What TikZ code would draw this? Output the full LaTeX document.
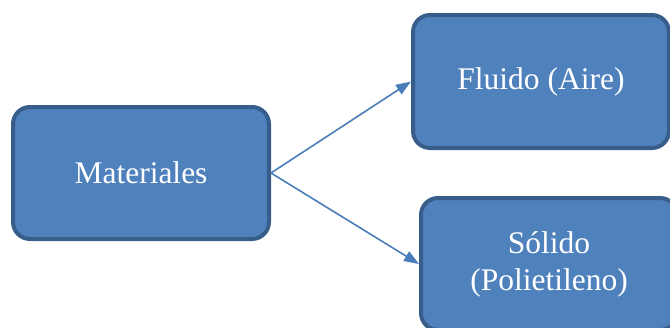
\documentclass[tikz,border=0pt]{standalone}
\usepackage{fontspec}
\setmainfont{Liberation Serif}
\usetikzlibrary{arrows.meta}
\definecolor{boxfill}{HTML}{4F81BD}
\definecolor{boxline}{HTML}{385D8A}
\definecolor{arrowc}{HTML}{4A7EBB}
\tikzset{
  matbox/.style={draw=boxline, fill=boxfill, line width=4pt, rounded corners=17pt,
    minimum width=256pt, minimum height=132pt, text=white, align=center,
    font=\fontsize{31.5}{37}\selectfont, inner sep=0pt},
  conn/.style={draw=arrowc, line width=1.6pt, -{Triangle[length=15pt,width=11pt]}}
}
\begin{document}
\begin{tikzpicture}[x=1pt,y=-1pt]
\useasboundingbox (0,0) rectangle (670,327);
\node[matbox] (m) at (141,173) {Materiales};
\node[matbox, minimum height=133pt] (f) at (541,81.5) {Fluido (Aire)};
\node[matbox] (s) at (549,264) {Sólido\\(Polietileno)};
\draw[conn] (m.east) -- (f.west);
\draw[conn] (m.east) -- (s.west);
\end{tikzpicture}
\end{document}
